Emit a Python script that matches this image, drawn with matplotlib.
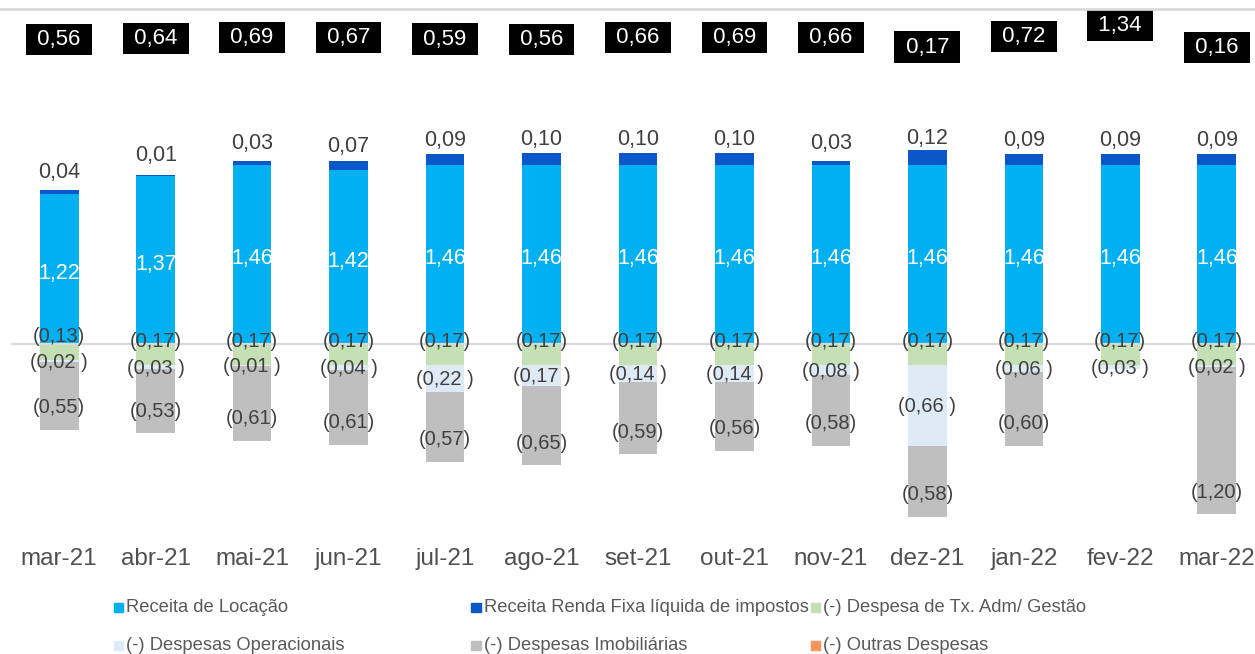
import numpy as np
import matplotlib
matplotlib.use("Agg")
import matplotlib.pyplot as plt
from matplotlib.patches import Rectangle
from matplotlib.lines import Line2D

plt.rcParams['font.family'] = ['Liberation Sans', 'DejaVu Sans']

# ---- data ----
months = ["mar-21", "abr-21", "mai-21", "jun-21", "jul-21", "ago-21", "set-21",
          "out-21", "nov-21", "dez-21", "jan-22", "fev-22", "mar-22"]
locacao = [1.22, 1.37, 1.46, 1.42, 1.46, 1.46, 1.46, 1.46, 1.46, 1.46, 1.46, 1.46, 1.46]
renda_fixa = [0.04, 0.01, 0.03, 0.07, 0.09, 0.10, 0.10, 0.10, 0.03, 0.12, 0.09, 0.09, 0.09]
tx_adm = [0.13, 0.17, 0.17, 0.17, 0.17, 0.17, 0.17, 0.17, 0.17, 0.17, 0.17, 0.17, 0.17]
operacionais = [0.02, 0.03, 0.01, 0.04, 0.22, 0.17, 0.14, 0.14, 0.08, 0.66, 0.06, 0.03, 0.02]
imobiliarias = [0.55, 0.53, 0.61, 0.61, 0.57, 0.65, 0.59, 0.56, 0.58, 0.58, 0.60, 0.00, 1.20]
outras = [0.0] * 13
resultado = [0.56, 0.64, 0.69, 0.67, 0.59, 0.56, 0.66, 0.69, 0.66, 0.17, 0.72, 1.34, 0.16]

legend_labels = ["Receita de Locação", "Receita Renda Fixa líquida de impostos",
                 "(-) Despesa de Tx. Adm/ Gestão", "(-) Despesas Operacionais",
                 "(-) Despesas Imobiliárias", "(-) Outras Despesas"]
colors = ["#00B0F0", "#0A57C9", "#C5E0B4", "#DEEBF7", "#BFBFBF", "#F4975A"]

W, H = 1255, 654
fig = plt.figure(figsize=(W / 100, H / 100), dpi=100)
ax = fig.add_axes([11 / W, 1 - 530 / H, 1254 / W, (530 - 9) / H])

x = np.arange(len(months))
width = 0.40
loc = np.array(locacao)
rf = np.array(renda_fixa)
tx = np.array(tx_adm)
op = np.array(operacionais)
im = np.array(imobiliarias)
ou = np.array(outras)

ax.bar(x, loc, width, color=colors[0], zorder=2)
ax.bar(x, rf, width, bottom=loc, color=colors[1], zorder=2)
ax.bar(x, -tx, width, color=colors[2], zorder=2)
ax.bar(x, -op, width, bottom=-tx, color=colors[3], zorder=2)
ax.bar(x, -im, width, bottom=-(tx + op), color=colors[4], zorder=2)
ax.bar(x, -ou, width, bottom=-(tx + op + im), color=colors[5], zorder=2)

ax.axhline(0, color="#D9D9D9", lw=1.6, zorder=2.5)

ax.set_xlim(-0.5, 12.5)
ax.set_ylim(-(530 - 344) / 122.6, (344 - 9) / 122.6)


def fmt(v, neg=False, space=False):
    s = f"{v:.2f}".replace(".", ",")
    if neg:
        s = "(" + s + (" )" if space else ")")
    return s


dark = "#404040"
for i in x:
    # receita locacao, centered
    ax.annotate(fmt(loc[i]), (i, loc[i] / 2), xytext=(0, -3),
                textcoords="offset points", ha="center", va="center",
                color="white", fontsize=15.5, zorder=3)
    # renda fixa, above center
    ax.annotate(fmt(rf[i]), (i, loc[i] + rf[i] / 2), xytext=(0, 14),
                textcoords="offset points", ha="center", va="center",
                color=dark, fontsize=15.5, zorder=3)
    # tx adm, inside end
    ax.annotate(fmt(tx[i], True), (i, -tx[i]), xytext=(0, 17),
                textcoords="offset points", ha="center", va="center",
                color=dark, fontsize=14.5, zorder=3)
    # operacionais, centered
    ax.annotate(fmt(op[i], True, True), (i, -tx[i] - op[i] / 2), xytext=(0, -1),
                textcoords="offset points", ha="center", va="center",
                color=dark, fontsize=14.5, zorder=3)
    # imobiliarias, inside end
    if im[i] > 0:
        ax.annotate(fmt(im[i], True), (i, -(tx[i] + op[i] + im[i])), xytext=(0, 16),
                    textcoords="offset points", ha="center", va="center",
                    color=dark, fontsize=14.5, zorder=3)

ax.set_xticks(x, months)
ax.tick_params(axis="x", length=0, pad=13, labelsize=17.5, labelcolor="#505050")
ax.set_yticks([])
for s in ax.spines.values():
    s.set_visible(False)

# resultado labels on secondary scale
ax2 = ax.twinx()
ax2.set_ylim(0.17 - (530 - 47) / 18.8, 0.17 + (47 - 9) / 18.8)
ax2.set_yticks([])
for s in ax2.spines.values():
    s.set_visible(False)
for i in x:
    ax2.text(i, resultado[i], " " + fmt(resultado[i]) + " ", ha="center", va="center",
             color="white", fontsize=16,
             bbox=dict(boxstyle="square,pad=0.23", fc="black", ec="none"))

# top border line
fig.add_artist(Line2D([0, 1], [1 - 9 / H] * 2, transform=fig.transFigure,
                      color="#D9D9D9", lw=2))

# legend, laid out like the original
leg_pos = [(118, 607), (476, 607), (815, 607), (118, 645), (476, 645), (815, 645)]
for (px, py), lab, c in zip(leg_pos, legend_labels, colors):
    fig.add_artist(Rectangle(((px - 4.5) / W, 1 - (py + 4.5) / H), 9 / W, 9 / H,
                             transform=fig.transFigure, color=c))
    fig.text((px + 8) / W, 1 - py / H, lab, ha="left", va="center",
             fontsize=13.2, color="#595959")

fig.savefig("out.png", dpi=100)
